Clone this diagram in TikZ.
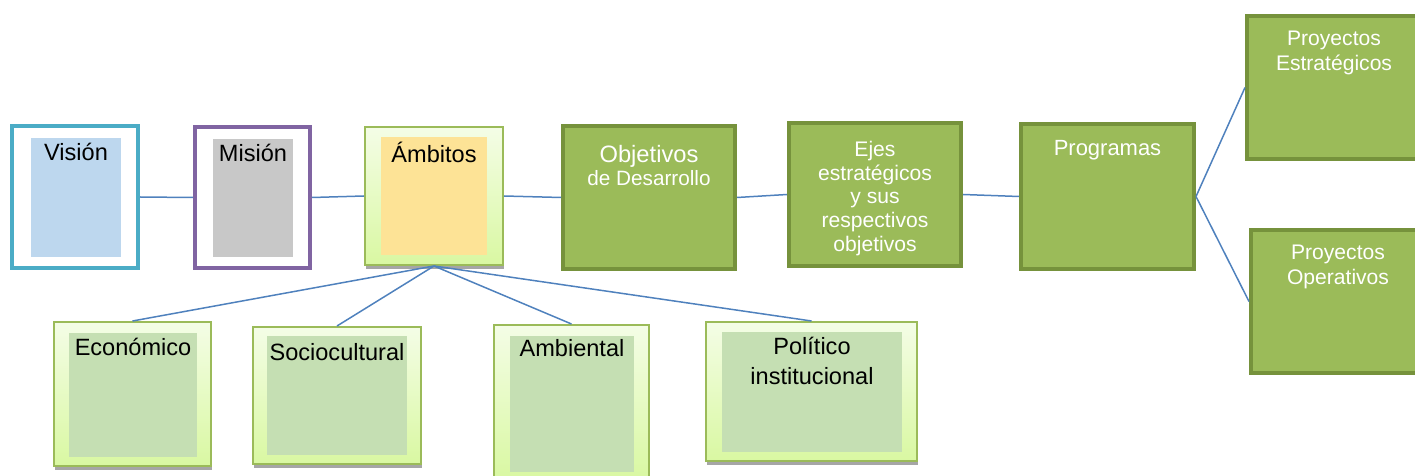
\documentclass[tikz,border=0pt]{standalone}
\usepackage{fontspec}
\setmainfont{Liberation Sans}
\usetikzlibrary{shadows}
\definecolor{visborder}{HTML}{4BACC6}
\definecolor{visfill}{HTML}{BDD7EE}
\definecolor{misborder}{HTML}{8064A2}
\definecolor{misfill}{HTML}{C8C8C8}
\definecolor{ambfill}{HTML}{FDE396}
\definecolor{lgborder}{HTML}{9BBB59}
\definecolor{lgtop}{HTML}{F4FDE6}
\definecolor{lgbottom}{HTML}{D9F8A2}
\definecolor{lginner}{HTML}{C5DFB3}
\definecolor{dgfill}{HTML}{9BBB59}
\definecolor{dgborder}{HTML}{76923C}
\definecolor{linkblue}{HTML}{4F81BD}
\definecolor{shadowgray}{HTML}{A6A6A6}

\begin{document}
\begin{tikzpicture}
    [
    x=0.2mm, y=-0.2mm,
    framebox/.style = {draw, line width=0.8mm, fill=white, inner sep=0pt},
    lightbox/.style = {draw=lgborder, line width=0.4mm, top color=lgtop, bottom color=lgbottom, inner sep=0pt,
        general shadow={fill=shadowgray, shadow xshift=0.2mm, shadow yshift=-0.8mm}},
    darkbox/.style = {draw=dgborder, line width=0.8mm, fill=dgfill, inner sep=0pt},
    inbox/.style = {inner sep=0pt},
    btxt/.style = {anchor=north, inner sep=0pt, yshift=-1mm, align=center, font=\fontsize{13.4}{17}\selectfont},
    wtxt/.style = {anchor=north, inner sep=0pt, align=center, text=white},
    link/.style = {draw=linkblue, line width=0.3mm}
    ]
\clip (0,0) rectangle (1415,476);

% upper row
\node[framebox, draw=visborder, minimum width=25.2mm, minimum height=28.4mm] (vision) at (75,197) {};
\node[inbox, fill=visfill, minimum width=18mm, minimum height=23.8mm, label={[btxt]north:Visión}] (visionin) at (76,197.5) {};
\node[framebox, draw=misborder, minimum width=23mm, minimum height=28.2mm] (mision) at (252.5,197.5) {};
\node[inbox, fill=misfill, minimum width=16mm, minimum height=23.6mm, label={[btxt]north:Misión}] (misionin) at (253,198) {};
\node[lightbox, minimum width=27.6mm, minimum height=27.6mm] (ambitos) at (434,196) {};
\node[inbox, fill=ambfill, minimum width=21.2mm, minimum height=23.6mm, label={[btxt]north:Ámbitos}] (ambitosin) at (434,196) {};
\node[darkbox, minimum width=34.4mm, minimum height=28.6mm,
    label={[wtxt, yshift=-4.1mm, font=\fontsize{13.5}{13.6}\selectfont]north:Objetivos\\{\fontsize{11.8}{13.6}\selectfont de Desarrollo}}] (objetivos) at (649,197.5) {};
\node[darkbox, minimum width=34.4mm, minimum height=28.6mm,
    label={[wtxt, yshift=-3.9mm, font=\fontsize{12}{13.6}\selectfont]north:Ejes\\estratégicos\\y sus\\respectivos\\objetivos}] (ejes) at (875,194.5) {};
\node[darkbox, minimum width=34.6mm, minimum height=29mm,
    label={[wtxt, yshift=-3.7mm, font=\fontsize{12.5}{14}\selectfont]north:Programas}] (programas) at (1107.5,196.5) {};
\node[darkbox, minimum width=34.8mm, minimum height=28.6mm,
    label={[wtxt, yshift=-3.4mm, font=\fontsize{12}{14.2}\selectfont]north:Proyectos\\Estratégicos}] (proyest) at (1334,87.5) {};
\node[darkbox, minimum width=34.8mm, minimum height=28.6mm,
    label={[wtxt, yshift=-3.4mm, font=\fontsize{12}{14.2}\selectfont]north:Proyectos\\Operativos}] (proyop) at (1338,301.5) {};

% lower row
\node[lightbox, minimum width=31.4mm, minimum height=28.8mm] (economico) at (132.5,394) {};
\node[inbox, fill=lginner, minimum width=25.6mm, minimum height=24.8mm, label={[btxt]north:Económico}] (economicoin) at (133,395) {};
\node[lightbox, minimum width=33.6mm, minimum height=27.4mm] (socio) at (337,395.5) {};
\node[inbox, fill=lginner, minimum width=28mm, minimum height=23.8mm, label={[btxt, yshift=-0.4mm]north:Sociocultural}] (socioin) at (337,395.5) {};
\node[lightbox, minimum width=31mm, minimum height=30.8mm] (ambiental) at (571.5,402) {};
\node[inbox, fill=lginner, minimum width=24.8mm, minimum height=27.2mm, label={[btxt, yshift=0.4mm]north:Ambiental}] (ambientalin) at (572,404) {};
\node[lightbox, minimum width=42.2mm, minimum height=27.8mm] (politico) at (811.5,391.5) {};
\node[inbox, fill=lginner, minimum width=36mm, minimum height=24mm, label={[btxt]north:Político\\institucional}] (politicoin) at (812,392) {};

% connectors
\draw[link] (vision.east) -- (mision.west);
\draw[link] (mision.east) -- (ambitos.west);
\draw[link] (ambitos.east) -- (objetivos.west);
\draw[link] (objetivos.east) -- (ejes.west);
\draw[link] (ejes.east) -- (programas.west);
\draw[link] (programas.east) -- (proyest.west);
\draw[link] (programas.east) -- (proyop.west);
\draw[link] (ambitos.south) -- (economico.north);
\draw[link] (ambitos.south) -- (socio.north);
\draw[link] (ambitos.south) -- (ambiental.north);
\draw[link] (ambitos.south) -- (politico.north);
\end{tikzpicture}
\end{document}
